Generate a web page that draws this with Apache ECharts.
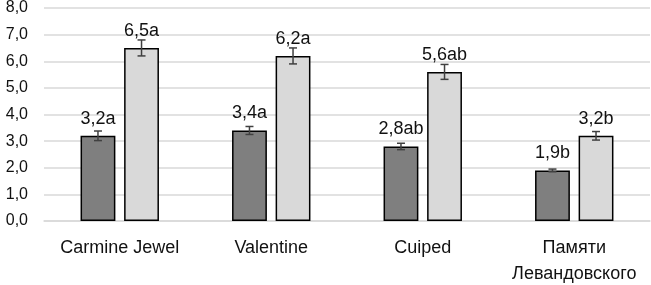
<!DOCTYPE html>
<html>
<head>
<meta charset="utf-8">
<script src="https://cdn.jsdelivr.net/npm/echarts@6/dist/echarts.min.js"></script>
<style>
  html, body { margin: 0; padding: 0; background: #fff; }
  #chart { width: 651px; height: 285px; }
</style>
</head>
<body>
<div id="chart"></div>
<script>
// Datos de la gráfica
var categorias = ["Carmine Jewel", "Valentine", "Cuiped", "Памяти\nЛевандовского"];
var valoresOscuro = [3.2, 3.4, 2.8, 1.9];
var valoresClaro = [6.5, 6.2, 5.6, 3.2];
var errorOscuro = [0.18, 0.15, 0.12, 0.05];
var errorClaro = [0.3, 0.3, 0.28, 0.16];
var etiquetasOscuro = ["3,2a", "3,4a", "2,8ab", "1,9b"];
var etiquetasClaro = ["6,5a", "6,2a", "5,6ab", "3,2b"];

var ANCHO_BARRA = 0.23; // fracción de la categoría
var HUECO = 0.25; // hueco entre barras, fracción del ancho

// Serie de barras de error (custom)
function serieError(valores, errores, lado) {
  return {
    type: "custom",
    z: 5,
    silent: true,
    data: valores.map(function (v, i) { return [i, v - errores[i], v + errores[i]]; }),
    renderItem: function (params, api) {
      var ancho = api.size([1, 0])[0];
      var bw = ancho * ANCHO_BARRA;
      var desplaza = lado * (bw / 2 + bw * HUECO / 2);
      var arriba = api.coord([api.value(0), api.value(2)]);
      var abajo = api.coord([api.value(0), api.value(1)]);
      var x = arriba[0] + desplaza;
      var cap = 4;
      var estilo = { stroke: "#404040", lineWidth: 1.5 };
      return {
        type: "group",
        children: [
          { type: "line", shape: { x1: x, y1: arriba[1], x2: x, y2: abajo[1] }, style: estilo },
          { type: "line", shape: { x1: x - cap, y1: arriba[1], x2: x + cap, y2: arriba[1] }, style: estilo },
          { type: "line", shape: { x1: x - cap, y1: abajo[1], x2: x + cap, y2: abajo[1] }, style: estilo }
        ]
      };
    }
  };
}

function serieBarra(valores, etiquetas, color) {
  return {
    type: "bar",
    barWidth: (ANCHO_BARRA * 100) + "%",
    barGap: (HUECO * 100) + "%",
    data: valores,
    itemStyle: { color: color, borderColor: "#000", borderWidth: 1.5 },
    label: {
      show: true,
      position: "top",
      distance: 8,
      color: "#111",
      fontSize: 18,
      fontFamily: "Liberation Sans",
      formatter: function (p) { return etiquetas[p.dataIndex]; }
    }
  };
}

var option = {
  animation: false,
  grid: { left: 44, right: 1, top: 8, bottom: 64, outerBoundsMode: "none" },
  xAxis: {
    type: "category",
    data: categorias,
    axisLine: { lineStyle: { color: "#d9d9d9", width: 1.5 } },
    axisTick: { show: false },
    axisLabel: {
      interval: 0,
      hideOverlap: false,
      color: "#111",
      fontSize: 18,
      fontFamily: "Liberation Sans",
      margin: 14,
      lineHeight: 26
    }
  },
  yAxis: {
    type: "value",
    min: 0,
    max: 8,
    interval: 1,
    axisLine: { show: false },
    axisTick: { show: false },
    splitLine: { lineStyle: { color: "#d9d9d9", width: 1.5 } },
    axisLabel: {
      color: "#111",
      fontSize: 16,
      fontFamily: "Liberation Sans",
      margin: 16,
      formatter: function (v) { return v.toFixed(1).replace(".", ","); }
    }
  },
  series: [
    serieBarra(valoresOscuro, etiquetasOscuro, "#7f7f7f"),
    serieBarra(valoresClaro, etiquetasClaro, "#d9d9d9"),
    serieError(valoresOscuro, errorOscuro, -1),
    serieError(valoresClaro, errorClaro, 1)
  ]
};

var grafica = echarts.init(document.getElementById("chart"), null, { renderer: "canvas" });
grafica.setOption(option);
</script>
</body>
</html>
